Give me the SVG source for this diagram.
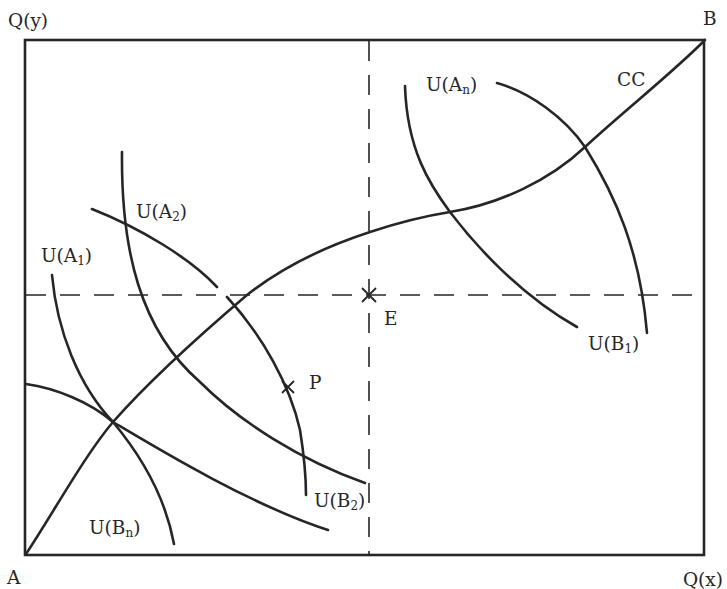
<svg xmlns="http://www.w3.org/2000/svg" width="727" height="589" viewBox="0 0 727 589">
<style>
.frame{fill:none;stroke:#262626;stroke-width:2.6}
.curve{fill:none;stroke:#262626;stroke-width:2.6;stroke-linecap:round}
.dash{fill:none;stroke:#262626;stroke-width:1.6;stroke-dasharray:20 14}
.mark{fill:none;stroke:#262626;stroke-width:1.8}
text{font-family:"DejaVu Serif","Liberation Serif",serif;font-size:18.5px;fill:#262626}
.sub{font-size:12px}
</style>
<rect width="727" height="589" fill="#ffffff"/>
<g id="box"><rect class="frame" x="25" y="40" width="679" height="515"/></g>
<g id="connectors">
<line class="dash" x1="26" y1="295" x2="703" y2="295"/>
<line class="dash" x1="369" y1="41" x2="369" y2="554"/>
<path id="CC" class="curve" stroke-width="2.8" d="M26,554 C55,510 85,455 113,422 C150,380 200,335 247,295 C285,265 330,245 370,232 C400,222 425,216 450,212 C500,204 550,180 585,147 C625,110 670,75 705,40"/>
<path id="UA1" class="curve" d="M52,275 C57,330 78,385 113,422 C150,444 250,505 328,530"/>
<path id="UBn" class="curve" d="M26,384 C55,388 90,402 113,422 C138,452 165,495 174,544"/>
<path id="UA2" class="curve" d="M122,152 C121,250 140,330 200,382 C240,422 300,460 365,483"/>
<path id="UB2" class="curve" d="M92,209 C140,228 190,258 217,287 M227,297 C262,335 290,385 300,430 C304,455 306,475 306,495"/>
<path id="UAn" class="curve" d="M405,86 C407,150 430,185 450,212 C475,245 520,295 577,327"/>
<path id="UB1" class="curve" d="M497,83 C530,92 565,118 585,147 C615,195 640,250 647,333"/>
</g>
<g id="E"><path class="mark" d="M362,288 L376,302 M362,302 L376,288"/><text x="384" y="325">E</text></g>
<g id="P"><path class="mark" d="M282,381 L294,393 M282,393 L294,381"/><text x="309" y="389">P</text></g>
<g id="labels">
<text x="8" y="27">Q(y)</text>
<text x="703" y="25">B</text>
<text x="7" y="584">A</text>
<text x="723" y="586" text-anchor="end">Q(x)</text>
<text x="617" y="86">CC</text>
<text x="426" y="91">U(A<tspan class="sub" dy="3">n</tspan><tspan dy="-3">)</tspan></text>
<text x="136" y="218">U(A<tspan class="sub" dy="3">2</tspan><tspan dy="-3">)</tspan></text>
<text x="41" y="262">U(A<tspan class="sub" dy="3">1</tspan><tspan dy="-3">)</tspan></text>
<text x="588" y="350">U(B<tspan class="sub" dy="3">1</tspan><tspan dy="-3">)</tspan></text>
<text x="314" y="507">U(B<tspan class="sub" dy="3">2</tspan><tspan dy="-3">)</tspan></text>
<text x="89" y="534">U(B<tspan class="sub" dy="3">n</tspan><tspan dy="-3">)</tspan></text>
</g>
</svg>
